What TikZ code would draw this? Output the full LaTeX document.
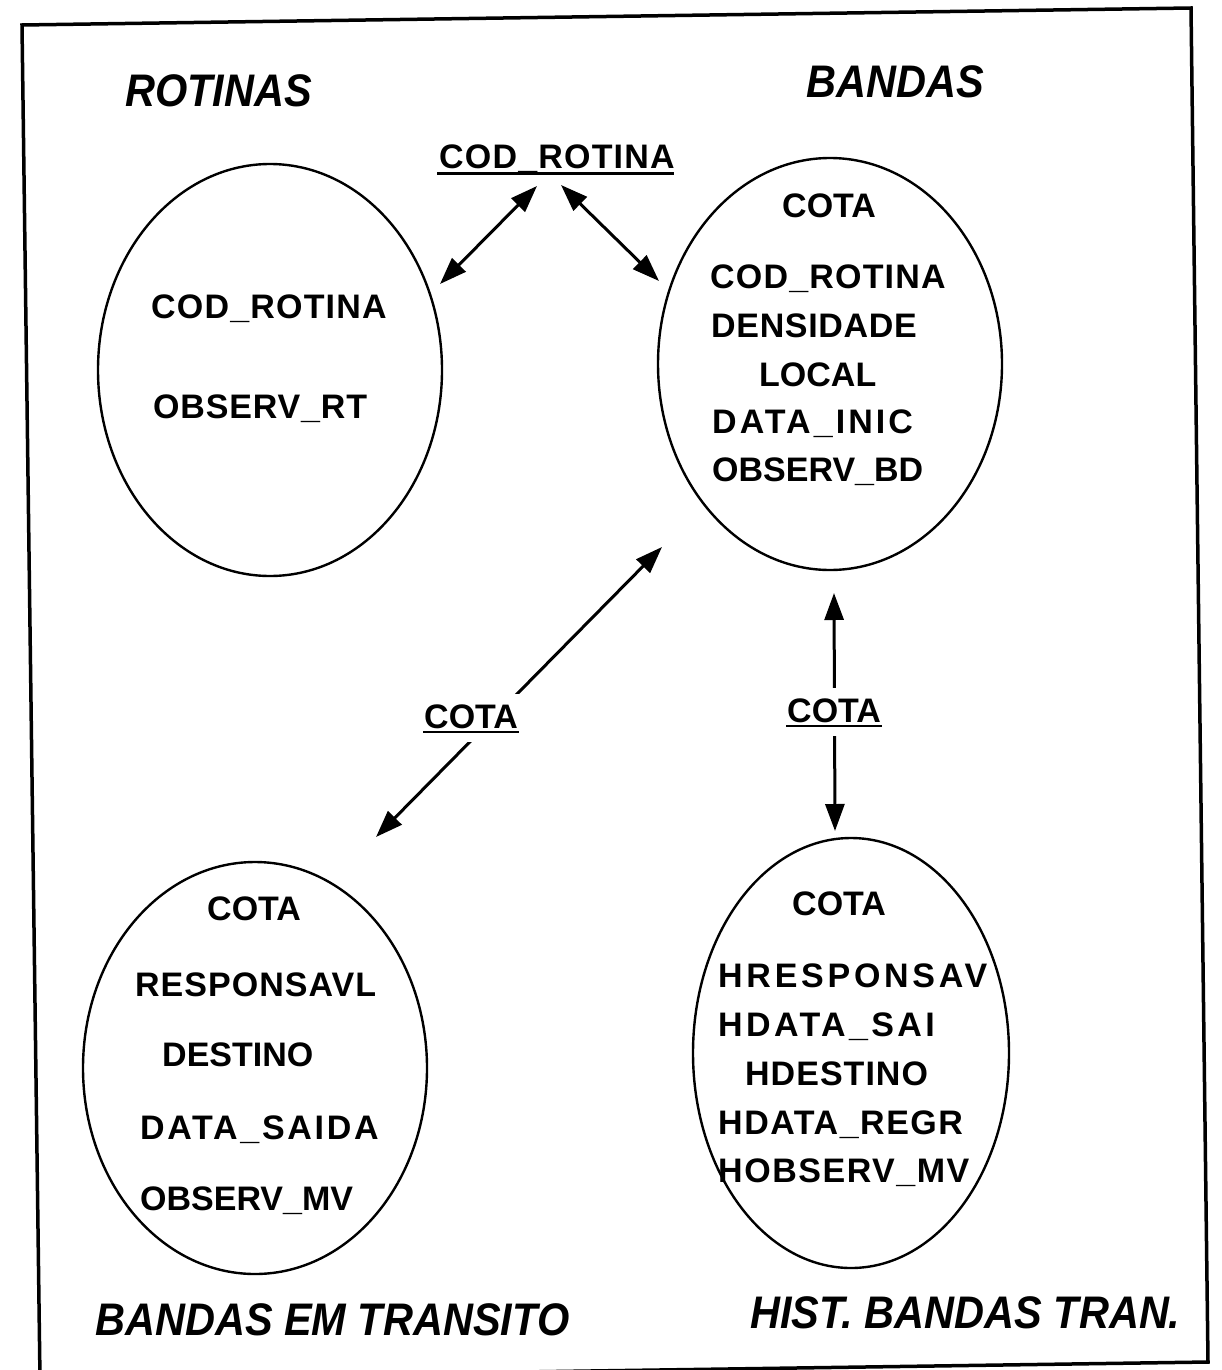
\documentclass[tikz,border=0pt]{standalone}
\usepackage{fontspec}
\setmainfont{Liberation Sans}
\usetikzlibrary{arrows.meta,shapes.geometric}
\newcommand{\lsp}[2]{{\addfontfeature{LetterSpace=#1}#2}}
\tikzset{
  entity/.style={draw, ellipse, line width=2.4pt, minimum width=344pt,
    minimum height=412pt, inner sep=0pt},
  attr/.style={anchor=base west, inner sep=0pt,
    font=\fontsize{34}{40}\selectfont\bfseries},
  ttl/.style={anchor=base west, inner sep=0pt,
    font=\fontsize{41.5}{48}\selectfont\bfseries\itshape},
  keylab/.style={anchor=base west, inner xsep=3pt, inner ysep=6pt,
    text height=28pt, text depth=8pt, fill=white,
    font=\fontsize{34}{40}\selectfont\bfseries},
  uline/.style={line width=2.5pt},
  link/.style={line width=3pt,
    {Triangle[length=27pt,width=19pt]}-{Triangle[length=27pt,width=19pt]}},
  frame/.style={line width=3.5pt, line join=miter}
}
\begin{document}
\begin{tikzpicture}[x=1pt,y=-1pt]
\useasboundingbox (0,0) rectangle (1221,1370);

% outer frame (slightly tilted)
\begin{scope}
  \clip (0,0) rectangle (1221,1370);
  \draw[frame] (22,25) -- (1191,8) -- (1208,1362) -- (40,1379) -- cycle;
\end{scope}

% entities
\node[entity] (rot) at (270,370) {};
\node[entity] (bnd) at (830,364) {};
\node[entity] (trn) at (255,1068) {};
\node[entity, minimum width=316pt, minimum height=430pt] (hst) at (851,1053) {};

% entity titles
\node[ttl] (trot) at (125,107) {\scalebox{1}[1.1]{ROTINAS}};
\node[ttl] (tbnd) at (806,98) {\scalebox{1}[1.1]{BANDAS}};
\node[ttl] (ttrn) at (95,1335) {\scalebox{1}[1.1]{BANDAS EM TRANSITO}};
\node[ttl] (thst) at (750,1328) {\scalebox{1}[1.1]{HIST. BANDAS TRAN.}};

% ROTINAS attributes
\node[attr] at (151,318) {\lsp{3.5}{COD\_ROTINA}};
\node[attr] at (153,418) {\lsp{2.5}{OBSERV\_RT}};

% BANDAS attributes
\node[attr] at (782,217) {COTA};
\node[attr] at (710,288) {\lsp{3.5}{COD\_ROTINA}};
\node[attr] at (711,337) {\lsp{2}{DENSIDADE}};
\node[attr] at (759,386) {LOCAL};
\node[attr] at (712,433) {\lsp{9}{DATA\_INIC}};
\node[attr] at (712,481) {OBSERV\_BD};

% BANDAS EM TRANSITO attributes
\node[attr] at (207,920) {COTA};
\node[attr] at (135,996) {\lsp{3}{RESPONSAVL}};
\node[attr] at (162,1066) {DESTINO};
\node[attr] at (140,1139) {\lsp{8}{DATA\_SAIDA}};
\node[attr] at (140,1210) {OBSERV\_MV};

% HIST. BANDAS TRAN. attributes
\node[attr] at (792,915) {COTA};
\node[attr] at (718,987) {\lsp{11}{HRESPONSAV}};
\node[attr] at (718,1036) {\lsp{10}{HDATA\_SAI}};
\node[attr] at (745,1085) {\lsp{3}{HDESTINO}};
\node[attr] at (718,1134) {\lsp{4.5}{HDATA\_REGR}};
\node[attr] at (718,1182) {\lsp{4.5}{HOBSERV\_MV}};

% arrow end points
\coordinate (ra) at (537,186);
\coordinate (rb) at (440,284);
\coordinate (ba) at (561,185);
\coordinate (bb) at (659,281);
\coordinate (da) at (662,547);
\coordinate (db) at (376,837);
\coordinate (va) at (834,593);
\coordinate (vb) at (835,831);

% relationship on COD_ROTINA
\node[attr] (kcod) at (439,168) {\lsp{3.5}{COD\_ROTINA}};
\draw[uline] ([xshift=-2pt,yshift=-5.5pt]kcod.base west) -- ([xshift=-1pt,yshift=-5.5pt]kcod.base east);
\draw[link] (ra) -- (rb);
\draw[link] (ba) -- (bb);

% relationship BANDAS - BANDAS EM TRANSITO on COTA
\draw[link] (da) -- (db);
\node[keylab] (kd) at (421,728) {COTA};
\draw[uline] ([xshift=2pt,yshift=-4pt]kd.base west) -- ([xshift=-2pt,yshift=-4pt]kd.base east);

% relationship BANDAS - HIST. BANDAS TRAN. on COTA
\draw[link] (va) -- (vb);
\node[keylab] (kv) at (784,722) {COTA};
\draw[uline] ([xshift=2pt,yshift=-4pt]kv.base west) -- ([xshift=-2pt,yshift=-4pt]kv.base east);
\end{tikzpicture}
\end{document}
